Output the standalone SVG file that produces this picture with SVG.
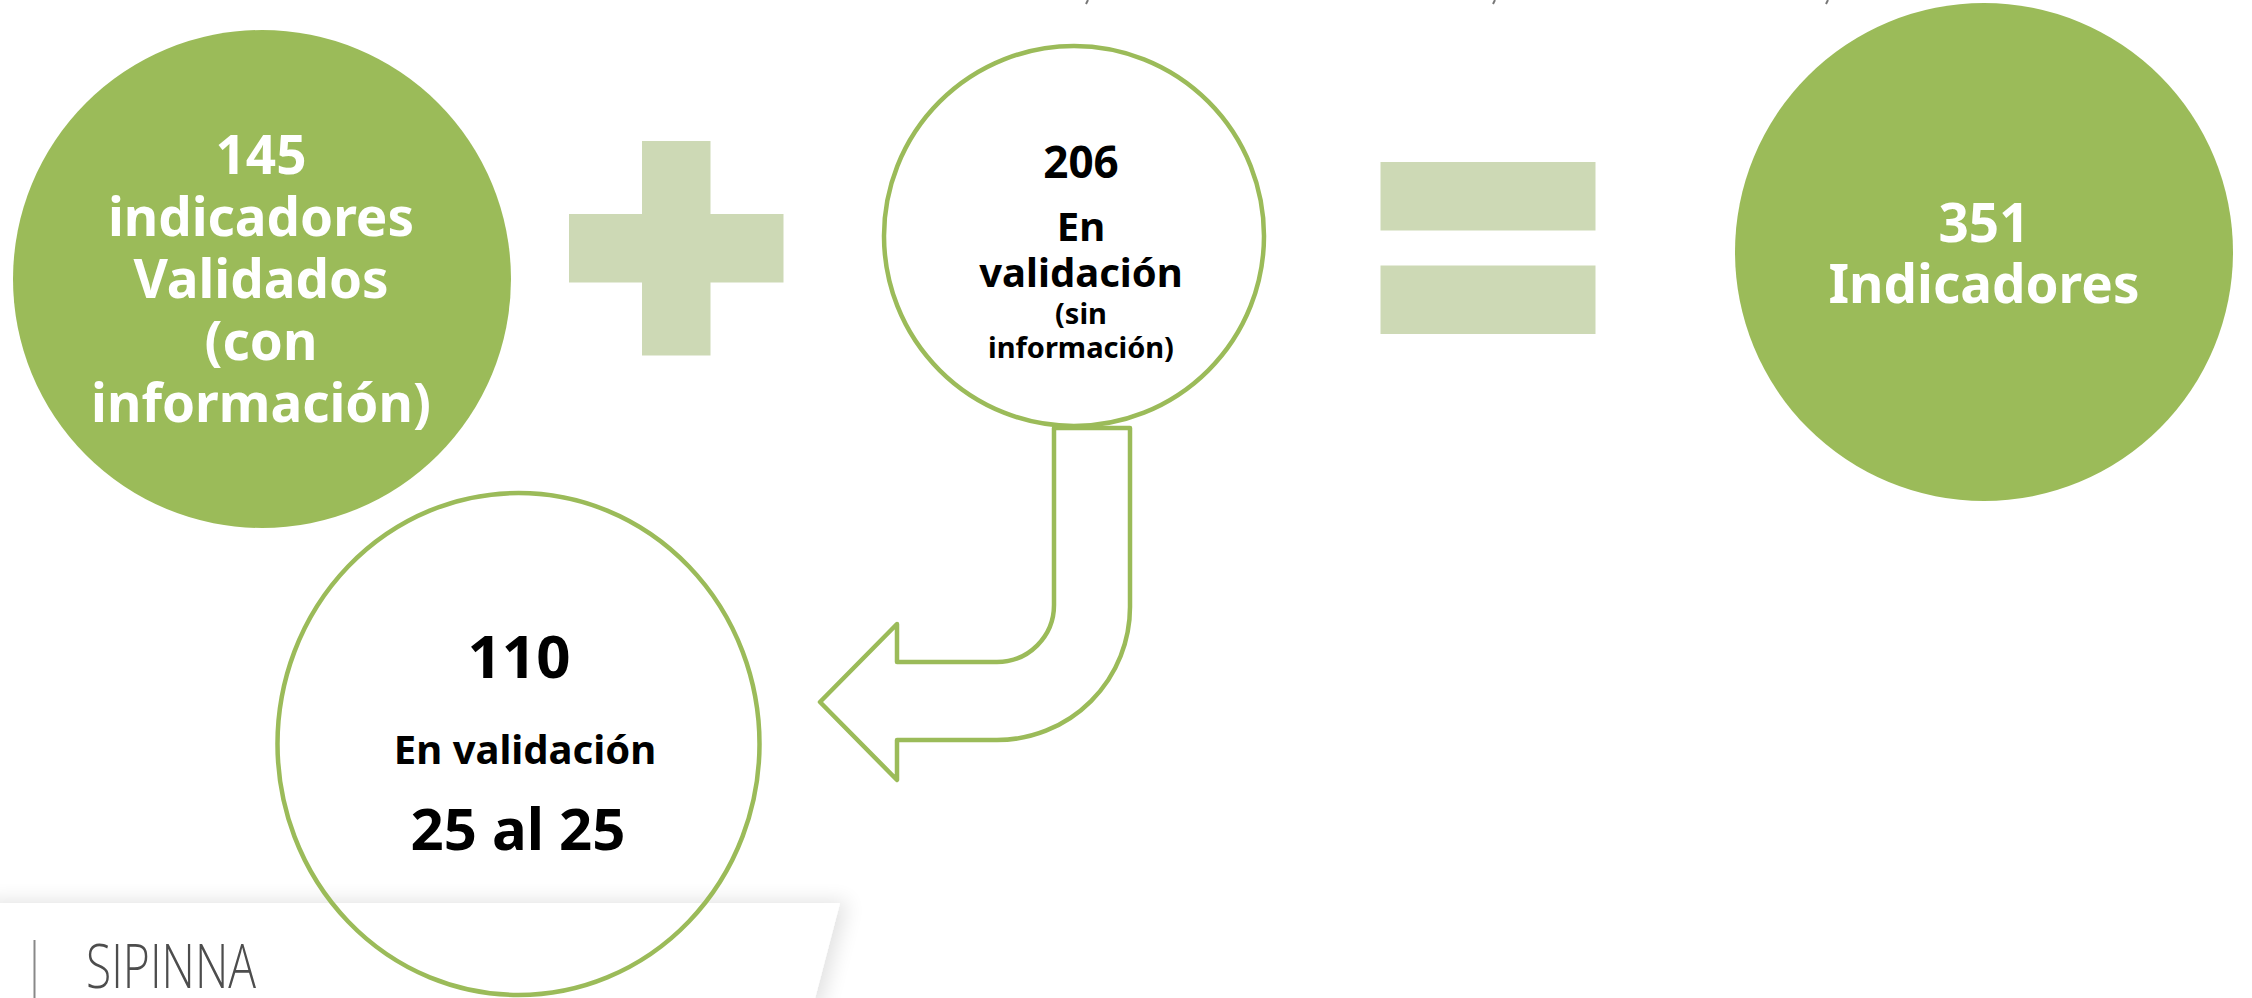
<svg xmlns="http://www.w3.org/2000/svg" width="2252" height="998" viewBox="0 0 2252 998">
<style>
.fill{fill:#9bbb59}
.ring{fill:none;stroke:#9bbb59;stroke-width:4.5}
.bar{fill:#cdd9b5}
.w{font-family:"Noto Sans","Liberation Sans",sans-serif;font-weight:bold;fill:#ffffff;text-anchor:middle}
.k{font-family:"Noto Sans","Liberation Sans",sans-serif;font-weight:bold;fill:#000000;text-anchor:middle}
.conn{fill:#ffffff;stroke:#9bbb59;stroke-width:4.5;stroke-linejoin:round}
</style>
<defs>
<filter id="shadow" x="-10%" y="-50%" width="130%" height="200%">
<feGaussianBlur in="SourceAlpha" stdDeviation="10"/>
<feOffset dx="8" dy="-2" result="b"/>
<feComponentTransfer><feFuncA type="linear" slope="0.12"/></feComponentTransfer>
<feMerge><feMergeNode/><feMergeNode in="SourceGraphic"/></feMerge>
</filter>
</defs>
<rect width="2252" height="998" fill="#ffffff"/>
<g id="top-marks" stroke="#777" stroke-width="2">
<line x1="1088" y1="0" x2="1086" y2="4"/>
<line x1="1495" y1="0" x2="1493" y2="4"/>
<line x1="1828" y1="0" x2="1826" y2="4"/>
</g>
<g id="footer">
<polygon points="-20,903 840,903 812,1010 -20,1010" fill="#ffffff" filter="url(#shadow)"/>
<line x1="34.5" y1="940" x2="34.5" y2="998" stroke="#888" stroke-width="2"/>
<text x="86" y="988" font-family="'Open Sans','Noto Sans',sans-serif" font-weight="300" font-size="60" fill="#4d4d4d" textLength="170" lengthAdjust="spacingAndGlyphs">SIPINNA</text>
</g>
<g id="node-145">
<circle class="fill" cx="262" cy="279" r="249"/>
<text class="w" font-size="53"><tspan x="261" y="174">145</tspan><tspan x="261" y="236">indicadores</tspan><tspan x="261" y="298">Validados</tspan><tspan x="261" y="360">(con</tspan><tspan x="261" y="422">información)</tspan></text>
</g>
<g id="plus">
<rect class="bar" x="642" y="141" width="68.5" height="214.5"/>
<rect class="bar" x="569" y="214" width="214.5" height="68.5"/>
</g>
<g id="node-206">
<circle class="ring" cx="1074" cy="236" r="190"/>
<text class="k" font-size="44" x="1081" y="178">206</text>
<text class="k" font-size="40"><tspan x="1081" y="241">En</tspan><tspan x="1081" y="287">validación</tspan></text>
<text class="k" font-size="29"><tspan x="1081" y="324">(sin</tspan><tspan x="1081" y="358">información)</tspan></text>
</g>
<g id="equals">
<rect class="bar" x="1380.5" y="162" width="215" height="68.5"/>
<rect class="bar" x="1380.5" y="265.5" width="215" height="68.5"/>
</g>
<g id="node-351">
<circle class="fill" cx="1984" cy="252" r="249"/>
<text class="w" font-size="53"><tspan x="1984" y="242">351</tspan><tspan x="1984" y="303">Indicadores</tspan></text>
</g>
<g id="connectors">
<path class="conn" d="M 1054 428 L 1054 605 A 57 57 0 0 1 997 662 L 897 662 L 897 624 L 820 702 L 897 780 L 897 740 L 997 740 A 133 133 0 0 0 1130 607 L 1130 428 Z"/>
</g>
<g id="node-110">
<ellipse class="ring" cx="518.5" cy="744" rx="241" ry="251"/>
<text class="k" font-size="60" x="519" y="678">110</text>
<text class="k" font-size="40" x="525" y="764">En validación</text>
<text class="k" font-size="58" x="518" y="850">25 al 25</text>
</g>
</svg>
